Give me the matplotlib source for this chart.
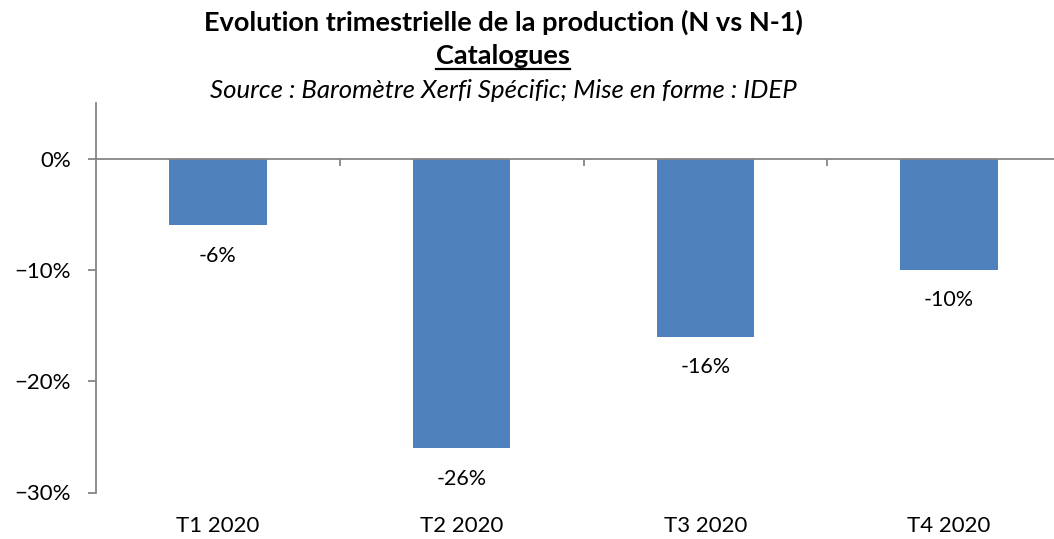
import matplotlib.pyplot as plt
from matplotlib.lines import Line2D
from matplotlib.ticker import PercentFormatter
import matplotlib.transforms as mtransforms

plt.rcParams['font.family'] = ['Lato', 'DejaVu Sans']

# Data
quarters = ['T1 2020', 'T2 2020', 'T3 2020', 'T4 2020']
evolution = [-6, -26, -16, -10]  # % N vs N-1

bar_color = '#4F81BD'
axis_color = '#868686'

fig = plt.figure(figsize=(10.54, 5.39), dpi=100)
ax = fig.add_axes([96 / 1054, 1 - 492.5 / 539, 975 / 1054, 389.5 / 539])

x = range(len(quarters))
ax.bar(x, evolution, width=0.4, color=bar_color, zorder=2)

ax.set_xlim(-0.5, 3.5)
ax.set_ylim(-30, 5)
ax.set_yticks([0, -10, -20, -30])
ax.yaxis.set_major_formatter(PercentFormatter(decimals=0))
ax.tick_params(axis='y', direction='out', length=6, width=1.3, color=axis_color,
               labelsize=16, pad=12, labelcolor='black')

# x axis line at 0 with ticks between categories
ax.spines['bottom'].set_position(('data', 0))
ax.spines['bottom'].set_color(axis_color)
ax.spines['bottom'].set_linewidth(1.3)
ax.spines['left'].set_color(axis_color)
ax.spines['left'].set_linewidth(1.3)
ax.spines['top'].set_visible(False)
ax.spines['right'].set_visible(False)
ax.set_xticks([0.5, 1.5, 2.5])
ax.set_xticklabels([])
ax.tick_params(axis='x', direction='out', length=5, width=1.3, color=axis_color)

# category labels under the plot area
trans = mtransforms.blended_transform_factory(ax.transData, ax.transAxes)
for i, q in enumerate(quarters):
    ax.text(i, -0.085, q, transform=trans, ha='center', va='center', fontsize=16)

# value labels
for i, v in enumerate(evolution):
    ax.annotate(f'{v}%', (i, v), xytext=(0, -22), textcoords='offset points',
                ha='center', va='center', fontsize=15.5)

# titles
cx = 503 / 1054
fig.text(cx, 1 - 22 / 539, 'Evolution trimestrielle de la production (N vs N-1)',
         ha='center', va='center', fontsize=19.5, fontweight='bold')
sub = fig.text(cx, 1 - 56 / 539, 'Catalogues', ha='center', va='center',
               fontsize=19.5, fontweight='bold')
fig.text(cx, 1 - 90 / 539, 'Source : Baromètre Xerfi Spécific; Mise en forme : IDEP',
         ha='center', va='center', fontsize=18.5, fontstyle='italic')

# underline "Catalogues"
fig.canvas.draw()
bb = sub.get_window_extent().transformed(fig.transFigure.inverted())
fig.add_artist(Line2D([bb.x0, bb.x1], [bb.y0 - 0.002, bb.y0 - 0.002],
                      transform=fig.transFigure, color='black', linewidth=1.6))

fig.savefig('out.png', dpi=100)
